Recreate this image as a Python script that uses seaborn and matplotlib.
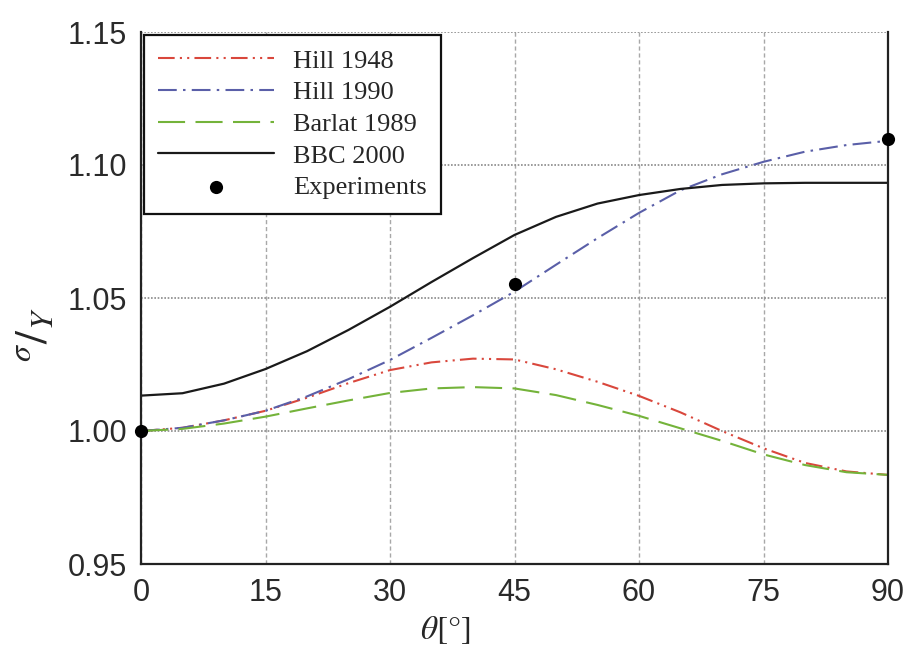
import numpy as np
import pandas as pd
import matplotlib
matplotlib.use("Agg")
import matplotlib.pyplot as plt
import seaborn as sns

# ---- data ----
theta = [0, 5, 10, 15, 20, 25, 30, 35, 40, 45, 50, 55, 60, 65, 70, 75, 80, 85, 90]
hill1948 = [1.0000, 1.0012, 1.0040, 1.0076, 1.0125, 1.0180, 1.0229, 1.0258, 1.0272, 1.0269,
            1.0232, 1.0185, 1.0132, 1.0070, 1.0000, 0.9935, 0.9880, 0.9848, 0.9835]
hill1990 = [1.0000, 1.0012, 1.0040, 1.0076, 1.0130, 1.0195, 1.0267, 1.0350, 1.0435, 1.0524,
            1.0625, 1.0725, 1.0820, 1.0905, 1.0965, 1.1012, 1.1050, 1.1075, 1.1091]
barlat1989 = [1.0000, 1.0008, 1.0028, 1.0054, 1.0085, 1.0115, 1.0143, 1.0160, 1.0165, 1.0160,
              1.0135, 1.0098, 1.0057, 1.0010, 0.9963, 0.9912, 0.9872, 0.9845, 0.9835]
bbc2000 = [1.0133, 1.0142, 1.0178, 1.0233, 1.0300, 1.0380, 1.0467, 1.0560, 1.0650, 1.0737,
           1.0805, 1.0855, 1.0887, 1.0910, 1.0925, 1.0931, 1.0933, 1.0933, 1.0933]
exp_theta = [0, 45, 90]
exp_vals = [1.0000, 1.0551, 1.1098]

x_ticks = [0, 15, 30, 45, 60, 75, 90]
y_ticks = [0.95, 1.00, 1.05, 1.10, 1.15]

sns.set_style("white")
plt.rcParams["mathtext.fontset"] = "stix"

fig = plt.figure(figsize=(9.08, 6.53), dpi=100)
ax = fig.add_axes([141 / 908, 1 - 564 / 653, 747 / 908, 532 / 653])

lw = 1.5
sns.lineplot(x=theta, y=hill1948, ax=ax, color="#d9473c", lw=lw,
             linestyle=(0, (8, 2.5, 1, 2.5, 1, 2.5)), label="Hill 1948")
sns.lineplot(x=theta, y=hill1990, ax=ax, color="#5a5fa8", lw=lw,
             linestyle=(0, (9, 3, 1.2, 3)), label="Hill 1990")
sns.lineplot(x=theta, y=barlat1989, ax=ax, color="#74b33a", lw=lw,
             linestyle=(0, (13, 5)), label="Barlat 1989")
sns.lineplot(x=theta, y=bbc2000, ax=ax, color="#1a1a1a", lw=1.6,
             linestyle="-", label="BBC 2000")
sns.scatterplot(x=exp_theta, y=exp_vals, ax=ax, color="black", s=90,
                edgecolor="black", linewidth=0, clip_on=False, zorder=5,
                label="Experiments")

ax.set_xlim(0, 90)
ax.set_ylim(0.95, 1.15)
ax.set_xticks(x_ticks)
ax.set_yticks(y_ticks)
ax.set_xticklabels([str(t) for t in x_ticks])
ax.set_yticklabels([f"{t:.2f}" for t in y_ticks])

for lab in ax.get_xticklabels() + ax.get_yticklabels():
    lab.set_fontfamily(["Liberation Sans", "DejaVu Sans"])
    lab.set_fontsize(22)
    lab.set_color("#2a2a2a")
ax.tick_params(axis="both", direction="out", length=6, width=1.2, color="#222222", pad=4)

# grid
ax.yaxis.grid(True, linestyle=(0, (1, 1)), color="#8a8a8a", lw=1.2)
ax.xaxis.grid(True, linestyle=(0, (3, 2)), color="#a8a8a8", lw=1.0)
ax.set_axisbelow(True)

for side in ["left", "bottom", "right"]:
    ax.spines[side].set_visible(True)
    ax.spines[side].set_color("#222222")
    ax.spines[side].set_linewidth(1.6)
ax.spines["top"].set_visible(False)

ax.set_xlabel(r"$\theta$[°]", fontsize=24, family=["STIXGeneral", "DejaVu Serif"])
ax.xaxis.set_label_coords(0.408, -0.095)
ax.xaxis.label.set_va("top")
ax.set_ylabel(r"$^{\sigma}/_{Y}$", fontsize=33, family=["STIXGeneral", "DejaVu Serif"])
ax.yaxis.set_label_coords(-0.112, 0.43)

leg = ax.legend(loc="upper left", bbox_to_anchor=(0.0, 1.0), borderaxespad=0.1,
                prop=dict(family=["Liberation Serif", "DejaVu Serif"], size=19),
                handlelength=4.4, labelspacing=0.31, frameon=True, fancybox=False,
                edgecolor="#111111", framealpha=1, borderpad=0.55, handletextpad=0.7)
leg.get_frame().set_linewidth(1.6)
leg.set_zorder(10)

fig.savefig("out.png", dpi=100)
